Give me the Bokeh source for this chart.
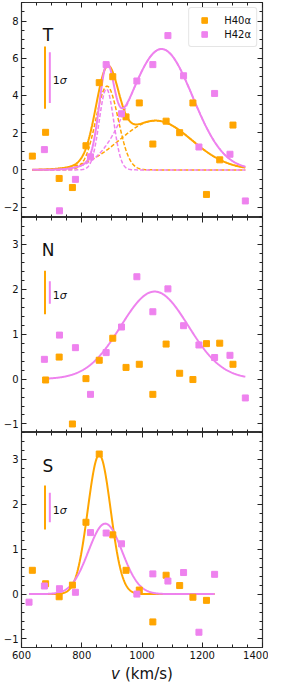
import numpy as np
from bokeh.plotting import figure
from bokeh.models import (Range1d, LinearAxis, FixedTicker, CustomJSTickFormatter,
                          Label, CustomLabelingPolicy)
from bokeh.core.properties import value
from bokeh.layouts import column
from bokeh.embed import file_html
from bokeh.resources import INLINE

# ---------------- data ----------------
v40_T = [636, 680, 725, 769, 814, 858, 903, 947, 991, 1036, 1080, 1125, 1169, 1214, 1258, 1302]
h40_T = [0.74, 2.02, -0.46, -0.95, 1.30, 4.69, 5.01, 2.85, 3.60, 1.39, 2.62, 2.00, 3.60, -1.32, 0.54, 2.41]
v42_T = [676, 726, 779, 829, 881, 932, 983, 1036, 1086, 1138, 1189, 1241, 1292, 1343]
h42_T = [1.09, -2.20, -0.51, 0.70, 5.66, 3.02, 4.78, 5.66, 7.22, 5.06, 1.23, 4.11, 0.84, -1.67]

v40_N = [680, 725, 769, 814, 858, 903, 947, 991, 1036, 1080, 1125, 1169, 1214, 1258, 1302]
h40_N = [-0.02, 0.49, -1.00, 0.01, 0.42, 0.91, 0.26, 0.33, -0.34, 0.78, 0.13, -0.01, 0.79, 0.80, 0.33]
v42_N = [676, 726, 779, 829, 881, 932, 983, 1036, 1086, 1138, 1189, 1241, 1292, 1343]
h42_N = [0.44, 0.98, 0.70, -0.34, 0.59, 1.16, 2.28, 1.50, 2.01, 1.19, 0.76, 0.48, 0.53, -0.42]

v40_S = [636, 680, 725, 769, 814, 858, 903, 947, 991, 1036, 1080, 1125, 1169, 1214]
h40_S = [0.53, 0.23, -0.06, 0.20, 1.60, 3.12, 1.32, 0.53, 0.09, -0.62, 0.42, 0.19, -0.07, -0.14]
v42_S = [625, 676, 726, 779, 829, 881, 932, 983, 1036, 1086, 1138, 1189, 1241]
h42_S = [-0.18, 0.18, 0.12, 0.04, 1.37, 1.36, 1.12, 0.00, 0.45, 0.29, 0.48, -0.85, 0.44]

# Gaussian fit components (amplitude, centre km/s, sigma km/s)
fit40_T = [(4.5, 884, 37), (2.65, 1045, 120)]
fit42_T = [(4.35, 882, 24), (6.5, 1065, 103)]
fit40_N = []
fit42_N = [(1.95, 1042, 112)]
fit40_S = [(3.1, 858, 38)]
fit42_S = [(1.57, 878, 56)]
fit_span = {"T": (636, 1343), "N": (676, 1343), "S": (625, 1241)}

# 1-sigma bars: (centre, orange length, violet length)
sig_T = (4.96, 3.34, 2.74)
sig_N = (1.93, 0.97, 0.50)
sig_S = (1.93, 0.98, 0.66)

label_y = {"T": 7.26, "N": 2.87, "S": 2.86}

x_range = (600, 1400)
x_major = [600, 800, 1000, 1200, 1400]
yr_T = (-2.56, 9.0)
y_major_T = [-2, 0, 2, 4, 6, 8]
yr_NS = (-1.19, 3.6)
y_major_NS = [-1, 0, 1, 2, 3]

x_title_italic = "v"
x_title_rest = "(km/s)"

C40 = "#FFA500"
C42 = "#EE82EE"
FONT = "DejaVu Sans"

x_minor = list(np.arange(600, 1401, 50))
y_minor_T = list(np.arange(-2.5, 9.01, 0.5))
y_minor_NS = [round(v, 2) for v in np.arange(-1.2, 3.61, 0.2)]

fmt = CustomJSTickFormatter(code="return tick < 0 ? '\u2212' + Math.abs(tick) : String(tick);")

W = 268
FRAME_H = 215


def style_axis(ax, show_labels, standoff=3):
    ax.axis_line_color = None
    ax.major_tick_in = 5
    ax.major_tick_out = 0
    ax.minor_tick_in = 3
    ax.minor_tick_out = 0
    ax.major_tick_line_color = "#222222"
    ax.minor_tick_line_color = "#222222"
    ax.major_tick_line_width = 1
    ax.minor_tick_line_width = 1
    if show_labels:
        ax.major_label_text_font = FONT
        ax.major_label_text_font_size = "10px"
        ax.major_label_text_color = "#111111"
        ax.major_label_standoff = standoff
    else:
        ax.major_label_text_font_size = "0px"
        ax.major_label_standoff = 0
        ax.major_label_policy = CustomLabelingPolicy(
            code="for (const i of indices) { indices.unset(i) }")


def make_panel(yr, ymaj, ymin, height, top, bottom, xlabels):
    p = figure(width=W, height=height, x_range=Range1d(*x_range), y_range=Range1d(*yr),
               x_axis_location=None, y_axis_location=None,
               output_backend="svg", toolbar_location=None,
               min_border_left=18, min_border_right=6,
               min_border_top=top, min_border_bottom=bottom)
    p.outline_line_color = "#333333"
    p.outline_line_width = 1.2
    p.grid.visible = False
    xt = FixedTicker(ticks=x_major, minor_ticks=x_minor)
    yt = FixedTicker(ticks=ymaj, minor_ticks=ymin)
    for loc, tk, lab in [("left", yt, True), ("right", yt, False),
                         ("below", xt, xlabels), ("above", xt, False)]:
        ax = LinearAxis(ticker=tk, formatter=fmt)
        style_axis(ax, lab)
        p.add_layout(ax, loc)
    return p


def gauss_curve(comps, span):
    xs = np.linspace(span[0], span[1], 400)
    parts = [a * np.exp(-(xs - c) ** 2 / (2 * s ** 2)) for a, c, s in comps]
    return xs, parts


def draw(p, name, v40, h40, v42, h42, f40, f42, sig, legend=False):
    span = fit_span[name]
    for comps, col in [(f40, C40), (f42, C42)]:
        if len(comps) > 1:
            xs, parts = gauss_curve(comps, span)
            for part in parts:
                p.line(xs, part, line_color=col, line_width=1.5, line_dash="4 2")
    for comps, col in [(f40, C40), (f42, C42)]:
        if comps:
            xs, parts = gauss_curve(comps, span)
            p.line(xs, np.sum(parts, axis=0), line_color=col, line_width=2)
    kw40 = dict(legend_label="H40\u03b1") if legend else {}
    kw42 = dict(legend_label="H42\u03b1") if legend else {}
    p.scatter(v40, h40, marker="square", size=6, fill_color=C40, line_color=C40, **kw40)
    p.scatter(v42, h42, marker="square", size=6, fill_color=C42, line_color=C42, **kw42)
    cen, l40, l42 = sig
    p.segment(x0=[678], y0=[cen - l40 / 2], x1=[678], y1=[cen + l40 / 2], line_color=C40, line_width=2)
    p.segment(x0=[694], y0=[cen - l42 / 2], x1=[694], y1=[cen + l42 / 2], line_color=C42, line_width=2)
    ty = cen - 0.012 * (p.y_range.end - p.y_range.start)
    p.add_layout(Label(x=704, y=ty, text="1", text_font=FONT, text_font_size="11px",
                       text_baseline="middle", text_color="#111111"))
    p.add_layout(Label(x=704, y=ty, x_offset=7, text="\u03c3", text_font=FONT,
                       text_font_size="11px", text_font_style="italic",
                       text_baseline="middle", text_color="#111111"))
    p.add_layout(Label(x=688, y=label_y[name], text=name, text_font=FONT,
                       text_font_size="17px", text_align="center", text_baseline="middle",
                       text_color="#111111"))


pT = make_panel(yr_T, y_major_T, y_minor_T, FRAME_H + 2, 2, 0, False)
draw(pT, "T", v40_T, h40_T, v42_T, h42_T, fit40_T, fit42_T, sig_T, legend=True)
pT.legend.location = "top_right"
pT.legend.label_text_font = FONT
pT.legend.label_text_font_size = "10px"
pT.legend.label_text_color = "#111111"
pT.legend.padding = 5
pT.legend.spacing = 0
pT.legend.margin = 5
pT.legend.glyph_width = 20
pT.legend.glyph_height = 14
pT.legend.label_height = 14
pT.legend.label_standoff = 10
pT.legend.border_line_color = "#cccccc"
pT.legend.border_radius = 3
pT.legend.background_fill_alpha = 0.8

pN = make_panel(yr_NS, y_major_NS, y_minor_NS, FRAME_H, 0, 0, False)
draw(pN, "N", v40_N, h40_N, v42_N, h42_N, fit40_N, fit42_N, sig_N)

pS = make_panel(yr_NS, y_major_NS, y_minor_NS, FRAME_H + 15, 0, 15, True)
draw(pS, "S", v40_S, h40_S, v42_S, h42_S, fit40_S, fit42_S, sig_S)

# x-axis title as its own strip (italic v + upright unit)
pX = figure(width=W, height=23, x_range=Range1d(*x_range), y_range=Range1d(0, 23),
            x_axis_location=None, y_axis_location=None, output_backend="svg",
            toolbar_location=None, min_border_left=18, min_border_right=6,
            min_border_top=0, min_border_bottom=0)
pX.outline_line_color = None
pX.grid.visible = False
pX.text(x=[1000], y=[12], text=[x_title_italic], x_offset=-31, text_font=value(FONT),
        text_font_size="15px", text_font_style="italic", text_color="#111111",
        text_baseline="middle")
pX.text(x=[1000], y=[12], text=[x_title_rest], x_offset=-17, text_font=value(FONT),
        text_font_size="15px", text_color="#111111", text_baseline="middle")

layout = column(pT, pN, pS, pX, spacing=0)
open("out.html", "w").write(file_html(layout, INLINE))
